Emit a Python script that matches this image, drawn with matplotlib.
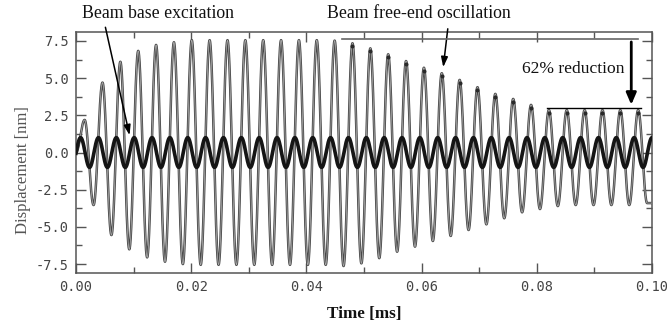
import numpy as np
import matplotlib
matplotlib.use("Agg")
import matplotlib.pyplot as plt
from matplotlib.ticker import MultipleLocator, FormatStrFormatter

# ---- data ----
period = 0.0031          # ms, oscillation period (both signals)
free_first_peak = 0.0015 # ms
free_start_value = 0.0   # value at t = 0
free_peaks = [2.19, 4.70, 6.10, 6.83, 7.23, 7.41, 7.55, 7.55, 7.55, 7.55,
              7.55, 7.55, 7.55, 7.55, 7.52, 7.34, 7.00, 6.60, 6.15, 5.70,
              5.33, 4.88, 4.39, 3.94, 3.60, 3.20, 2.86, 2.85, 2.85, 2.85,
              2.85, 2.85]
free_troughs = [-3.53, -5.55, -6.51, -7.05, -7.34, -7.50, -7.55, -7.55, -7.55, -7.55,
                -7.55, -7.55, -7.55, -7.55, -7.63, -7.45, -7.10, -6.67, -6.33, -5.95,
                -5.61, -5.21, -4.83, -4.42, -4.02, -3.80, -3.60, -3.53, -3.53, -3.53,
                -3.53, -3.40]
dotted_from = 15         # peaks carrying a small dark dot from this index on
base_amplitude = 1.0
base_first_peak = 0.0008
t_end = 0.1

xticks = [0.00, 0.02, 0.04, 0.06, 0.08, 0.10]
yticks = [-7.5, -5.0, -2.5, 0.0, 2.5, 5.0, 7.5]

# ---- build curves ----
t = np.linspace(0, t_end, 6000)

ext_t = [0.0]
ext_v = [free_start_value]
peak_t = []
for k, (p, tr) in enumerate(zip(free_peaks, free_troughs)):
    tp = free_first_peak + k * period
    peak_t.append(tp)
    ext_t += [tp, tp + period / 2]
    ext_v += [p, tr]
ext_t = np.array(ext_t)
ext_v = np.array(ext_v)
idx = np.clip(np.searchsorted(ext_t, t, side="right") - 1, 0, len(ext_t) - 2)
t0, t1 = ext_t[idx], ext_t[idx + 1]
v0, v1 = ext_v[idx], ext_v[idx + 1]
phase = np.clip((t - t0) / (t1 - t0), 0, 1)
free = (v0 + v1) / 2 + (v0 - v1) / 2 * np.cos(np.pi * phase)

base = base_amplitude * np.cos(2 * np.pi * (t - base_first_peak) / period)

# ---- figure ----
plt.rcParams["axes.unicode_minus"] = False
fig = plt.figure(figsize=(6.67, 3.27), dpi=100)
ax = fig.add_axes([76 / 667, 1 - 273 / 327, 576 / 667, 241 / 327])

ax.plot(t, free, color="#474747", lw=1.8, zorder=2)
ax.plot(t, free, color="#a5a5a5", lw=0.6, zorder=3)
ax.plot(peak_t[dotted_from:], np.array(free_peaks[dotted_from:]) - 0.2, ls="none",
        marker="o", ms=1.9, color="#2a2a2a", zorder=3)
ax.plot(t, base, color="#151515", lw=2.6, zorder=4)

ax.set_xlim(0, 0.1)
ax.set_ylim(-8.1, 8.1)
ax.set_xticks(xticks)
ax.set_yticks(yticks)
ax.xaxis.set_minor_locator(MultipleLocator(0.01))
ax.yaxis.set_minor_locator(MultipleLocator(1.25))
ax.xaxis.set_major_formatter(FormatStrFormatter("%.2f"))
ax.yaxis.set_major_formatter(FormatStrFormatter("%.1f"))
ax.tick_params(which="both", direction="in", top=True, right=True,
               colors="#555555", labelcolor="#444444", width=1)
ax.tick_params(which="major", length=7, pad=5)
ax.tick_params(which="minor", length=4)
for lab in ax.get_xticklabels() + ax.get_yticklabels():
    lab.set_family("DejaVu Sans Mono")
    lab.set_fontsize(9.8)
for s in ax.spines.values():
    s.set_color("#555555")
    s.set_linewidth(1.1)

ax.set_ylabel("Displacement [nm]", family="Liberation Serif", fontsize=12,
              color="#555555")
ax.yaxis.set_label_coords(-0.078, 0.427)
ax.set_xlabel("Time [ms]", family="Liberation Serif", fontsize=12.3,
              fontweight="bold", color="#111111", labelpad=9)

serif = dict(family="Liberation Serif", fontsize=12.8, color="#111111")
ax.text(0.0142, 9.32, "Beam base excitation", ha="center", va="center",
        clip_on=False, **serif)
ax.text(0.0595, 9.32, "Beam free-end oscillation", ha="center", va="center",
        clip_on=False, **serif)
ax.text(0.0863, 5.6, "62% reduction", ha="center", va="center",
        family="Liberation Serif", fontsize=12.6, color="#111111")

arrow = dict(arrowstyle="-|>,head_length=0.6,head_width=0.2", color="black", lw=1.1)
ax.annotate("", xy=(0.0094, 0.98), xytext=(0.0050, 8.6),
            arrowprops=arrow, annotation_clip=False)
ax.annotate("", xy=(0.0637, 5.55), xytext=(0.0646, 8.5),
            arrowprops=arrow, annotation_clip=False)

ax.plot([0.0462, 0.0976], [7.62, 7.62], color="#666666", lw=1.2, zorder=5)
ax.plot([0.0818, 0.0981], [3.02, 3.02], color="black", lw=1.0, zorder=5)
ax.annotate("", xy=(0.0964, 3.02), xytext=(0.0964, 7.62),
            arrowprops=dict(arrowstyle="-|>,head_length=0.7,head_width=0.3",
                            color="black", lw=2.0), zorder=6)

fig.savefig("out.png", dpi=100)
